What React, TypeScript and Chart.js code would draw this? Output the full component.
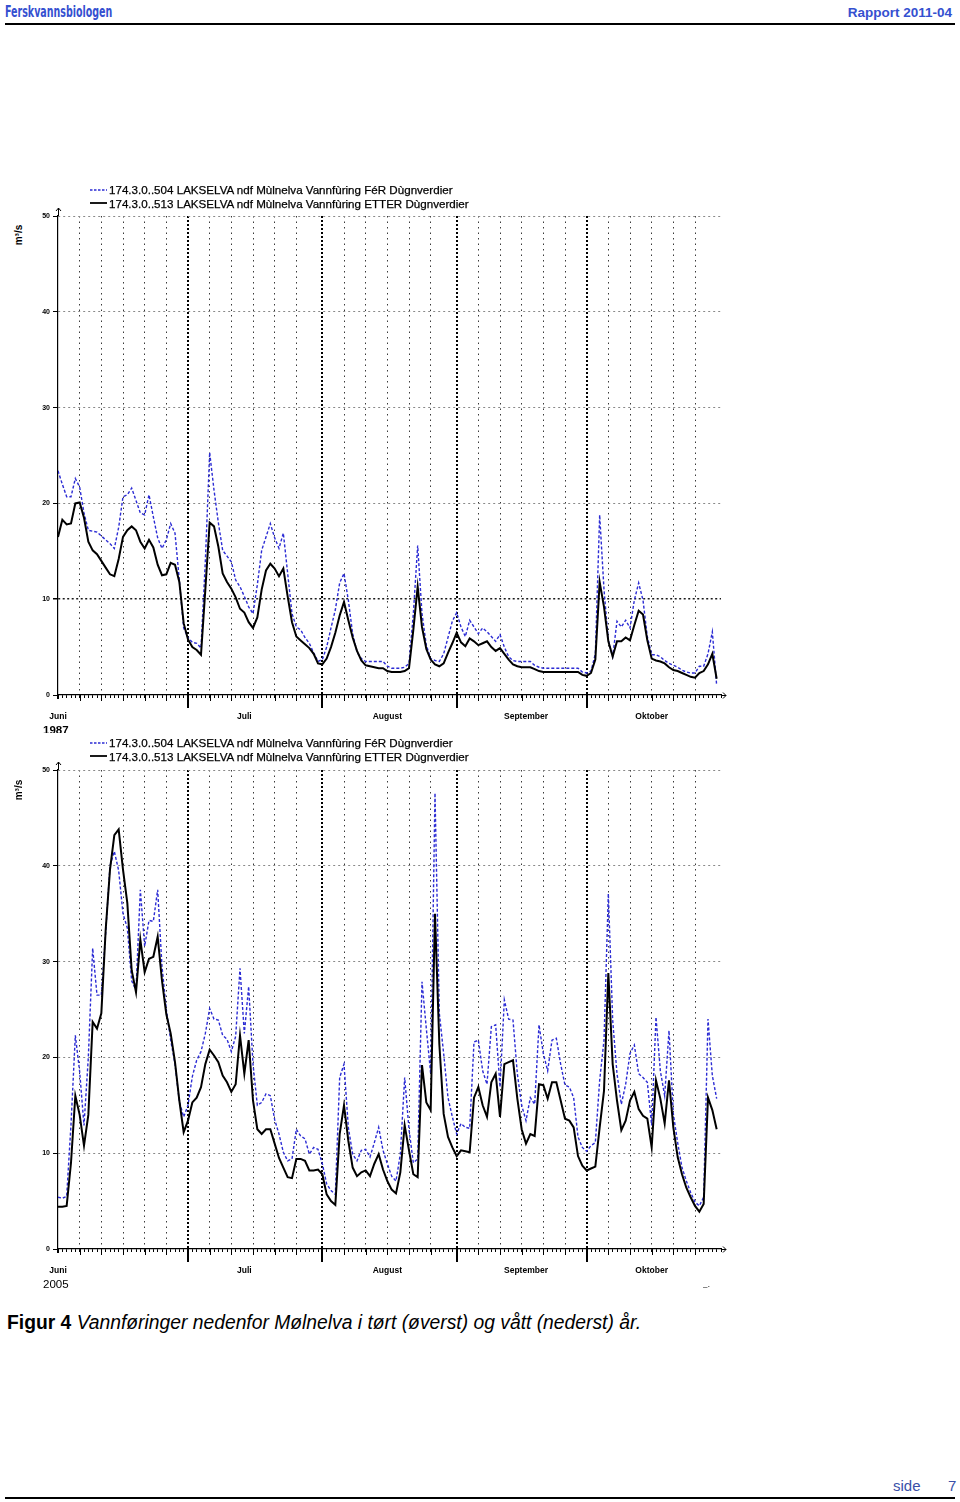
import React, { useEffect, useRef } from 'react';
import { Chart, registerables } from 'chart.js';

Chart.register(...registerables);

// ---- data (daily values, 1 June .. 31 October) ----
const N_DAYS = 153;
const MONTH_STARTS = [0, 30, 61, 92, 122];
const GRID_DAYS = [5, 10, 15, 20, 25, 35, 40, 45, 50, 55, 66, 71, 76, 81, 86, 97, 102, 107, 112, 117, 127, 132, 137, 142, 147];
const MONTH_LABELS = ['Juni', 'Juli', 'August', 'September', 'Oktober'];
const MONTH_LABEL_DAYS = [0, 43, 76, 108, 137];
const Y_TICKS = [0, 10, 20, 30, 40, 50];
const LEGEND_FOR = '174.3.0..504 LAKSELVA ndf Mùlnelva Vannfùring FéR Dùgnverdier';
const LEGEND_ETTER = '174.3.0..513 LAKSELVA ndf Mùlnelva Vannfùring ETTER Dùgnverdier';

// 1987 (dry year)
const TOP_FOR = [
  23.4, 22.0, 20.7, 20.7, 22.6, 21.7, 19.0, 17.2, 17.1, 17.0,
  16.6, 16.2, 15.8, 15.3, 17.5, 20.7, 20.9, 21.6, 20.3, 19.0,
  18.8, 20.9, 18.6, 16.4, 15.3, 16.2, 17.9, 16.9, 12.0, 7.0,
  6.0, 5.5, 5.4, 4.9, 14.0, 25.3, 21.4, 18.0, 15.1, 14.5,
  13.9, 12.0, 11.3, 10.3, 9.2, 8.5, 11.5, 15.1, 16.5, 17.9,
  16.4, 15.3, 16.9, 12.7, 8.5, 7.1, 6.8, 6.0, 5.4, 4.4,
  3.5, 3.7, 5.0, 7.0, 8.9, 11.7, 12.7, 9.9, 6.4, 4.5,
  3.8, 3.5, 3.5, 3.5, 3.5, 3.5, 3.0, 2.8, 2.8, 2.8,
  2.9, 3.3, 8.5, 15.6, 8.5, 5.2, 3.8, 3.6, 3.5, 4.3,
  6.0, 7.7, 8.6, 7.1, 6.1, 7.8, 7.1, 6.4, 7.0, 6.6,
  6.1, 5.6, 6.3, 5.0, 4.0, 3.6, 3.5, 3.5, 3.5, 3.5,
  3.1, 2.9, 2.8, 2.8, 2.8, 2.8, 2.8, 2.8, 2.8, 2.8,
  2.8, 2.4, 2.3, 2.5, 4.3, 18.8, 11.0, 5.7, 4.0, 7.7,
  7.1, 7.8, 7.0, 9.9, 11.7, 9.9, 6.1, 4.2, 4.2, 4.0,
  3.6, 3.3, 3.1, 2.9, 2.6, 2.4, 2.3, 2.3, 3.0, 3.0,
  4.3, 6.6, 1.0,
];
const TOP_ETTER = [
  16.5, 18.3, 17.8, 17.9, 20.0, 20.1, 18.5, 16.0, 15.1, 14.7,
  14.0, 13.3, 12.6, 12.4, 14.2, 16.5, 17.2, 17.6, 17.2, 16.0,
  15.3, 16.2, 15.4, 13.6, 12.5, 12.6, 13.8, 13.6, 11.8, 7.5,
  5.8, 5.0, 4.7, 4.2, 11.0, 18.0, 17.6, 15.5, 12.7, 11.8,
  11.1, 10.2, 9.0, 8.6, 7.6, 7.0, 8.1, 11.0, 13.0, 13.7,
  13.2, 12.4, 13.2, 10.3, 7.6, 6.1, 5.7, 5.3, 4.9, 4.3,
  3.3, 3.2, 3.8, 5.0, 6.5, 8.3, 9.7, 7.8, 6.0, 4.6,
  3.6, 3.1, 3.0, 2.9, 2.8, 2.8, 2.5, 2.4, 2.4, 2.4,
  2.5, 2.8, 6.8, 11.3, 7.1, 4.8, 3.7, 3.2, 3.0, 3.3,
  4.4, 5.4, 6.5, 5.5, 5.1, 5.9, 5.6, 5.2, 5.4, 5.6,
  5.0, 4.6, 4.9, 4.3, 3.7, 3.2, 3.0, 2.9, 2.9, 2.9,
  2.7, 2.5, 2.4, 2.4, 2.4, 2.4, 2.4, 2.4, 2.4, 2.4,
  2.4, 2.1, 2.0, 2.3, 3.7, 11.8, 9.2, 5.6, 4.0, 5.6,
  5.6, 6.0, 5.7, 7.3, 8.8, 8.4, 5.7, 3.8, 3.6, 3.5,
  3.3, 2.9, 2.6, 2.5, 2.3, 2.1, 1.9, 1.8, 2.3, 2.5,
  3.2, 4.3, 1.7,
];
// 2005 (wet year)
const BOT_FOR = [
  5.4, 5.3, 5.5, 13.0, 22.3, 18.5, 12.9, 20.0, 31.4, 26.5,
  26.5, 33.0, 40.0, 41.5, 39.5, 35.0, 33.5, 28.0, 27.0, 37.5,
  31.6, 34.3, 34.2, 37.5, 29.5, 25.0, 21.8, 19.3, 15.4, 13.8,
  15.0, 18.0, 19.7, 20.6, 22.5, 25.1, 24.0, 23.9, 22.3, 21.9,
  20.6, 22.2, 29.3, 22.5, 27.4, 19.3, 15.0, 15.3, 16.2, 16.0,
  13.5, 12.0, 10.1, 9.2, 9.4, 12.5, 11.8, 11.5, 9.9, 10.6,
  10.4, 8.9, 6.8, 6.1, 5.7, 17.9, 19.3, 12.7, 9.9, 9.2,
  10.3, 10.4, 9.6, 11.1, 12.7, 10.3, 8.9, 7.6, 7.1, 9.9,
  17.9, 12.5, 9.0, 9.4, 27.9, 23.0, 18.3, 47.6, 24.6, 20.4,
  15.8, 13.8, 12.0, 13.1, 12.7, 12.6, 21.6, 21.8, 18.6, 17.2,
  23.2, 23.4, 16.9, 26.0, 24.0, 23.9, 18.3, 15.0, 13.4, 15.8,
  15.1, 23.4, 20.4, 18.6, 21.8, 22.0, 19.3, 17.1, 16.9, 15.8,
  11.7, 10.6, 10.2, 10.8, 11.1, 17.6, 21.8, 37.1, 23.9, 18.3,
  15.1, 17.2, 20.4, 21.3, 18.3, 17.9, 17.4, 12.9, 24.2, 18.6,
  16.0, 22.8, 14.1, 11.1, 8.5, 7.1, 5.9, 4.9, 4.5, 5.4,
  24.0, 18.1, 15.7,
];
const BOT_ETTER = [
  4.4, 4.4, 4.5, 9.0, 16.0, 14.0, 10.8, 14.0, 23.7, 23.0,
  24.6, 33.3, 39.6, 43.2, 43.8, 39.6, 36.1, 29.1, 26.8, 32.3,
  28.9, 30.3, 30.5, 32.6, 28.0, 24.5, 22.5, 19.5, 15.5, 12.2,
  13.4, 15.3, 15.8, 16.9, 19.3, 20.8, 20.2, 19.5, 18.1, 17.4,
  16.4, 17.2, 22.3, 18.3, 21.8, 15.5, 12.5, 12.0, 12.5, 12.5,
  11.0, 9.5, 8.5, 7.5, 7.4, 9.4, 9.4, 9.2, 8.2, 8.2,
  8.3, 7.8, 5.7, 5.0, 4.6, 12.0, 15.0, 11.3, 8.5, 7.6,
  8.0, 8.2, 7.6, 8.9, 9.9, 8.3, 7.1, 6.2, 5.8, 8.0,
  12.9, 10.3, 7.8, 7.5, 19.2, 15.3, 14.5, 35.0, 21.4, 14.1,
  11.7, 10.6, 9.7, 10.3, 10.2, 10.1, 15.8, 16.9, 15.0, 13.8,
  17.4, 18.3, 13.8, 19.3, 19.5, 19.7, 15.7, 12.5, 11.0, 12.0,
  11.8, 17.2, 17.1, 15.7, 17.4, 17.4, 15.5, 13.6, 13.4, 12.7,
  9.7, 8.7, 8.2, 8.4, 8.6, 12.7, 16.5, 28.8, 19.3, 15.5,
  12.4, 13.4, 15.5, 16.4, 14.6, 13.9, 13.6, 10.6, 17.6, 15.7,
  13.1, 17.6, 12.7, 9.6, 7.8, 6.4, 5.4, 4.5, 3.9, 4.7,
  15.8, 14.5, 12.5,
];

const FONT = "'Liberation Sans', Arial, Helvetica, sans-serif";
const BLUE = '#2b2bd4';

const axisDecor = {
  id: 'axisDecor',
  afterDraw(chart: any) {
    const { ctx, chartArea, scales } = chart;
    const x = scales.x;
    ctx.save();
    ctx.strokeStyle = '#000';
    // longer ticks every 5 days
    ctx.lineWidth = 1;
    GRID_DAYS.forEach((d) => {
      const px = Math.round(x.getPixelForValue(d)) + 0.5;
      ctx.beginPath();
      ctx.moveTo(px, chartArea.bottom);
      ctx.lineTo(px, chartArea.bottom + 6);
      ctx.stroke();
    });
    // month boundary ticks below axis
    ctx.lineWidth = 2;
    MONTH_STARTS.forEach((d) => {
      const px = Math.round(x.getPixelForValue(d));
      ctx.beginPath();
      ctx.moveTo(px, chartArea.bottom);
      ctx.lineTo(px, chartArea.bottom + (d === 0 ? 4 : 13));
      ctx.stroke();
    });
    // y axis arrow
    ctx.lineWidth = 1;
    const lx = Math.round(chartArea.left) + 0.5;
    ctx.beginPath();
    ctx.moveTo(lx, chartArea.top);
    ctx.lineTo(lx, chartArea.top - 8);
    ctx.moveTo(lx - 2.5, chartArea.top - 5);
    ctx.lineTo(lx, chartArea.top - 8);
    ctx.lineTo(lx + 2.5, chartArea.top - 5);
    ctx.stroke();
    // x axis arrow
    const by = Math.round(chartArea.bottom) + 0.5;
    ctx.beginPath();
    ctx.moveTo(chartArea.right, by);
    ctx.lineTo(chartArea.right + 5, by);
    ctx.moveTo(chartArea.right + 2, by - 3);
    ctx.lineTo(chartArea.right + 5, by);
    ctx.lineTo(chartArea.right + 2, by + 3);
    ctx.stroke();
    ctx.restore();
  },
};

function FlowChart({ top, forData, etterData, darkTen }: { top: number; forData: number[]; etterData: number[]; darkTen: boolean }) {
  const ref = useRef<HTMLCanvasElement>(null);
  useEffect(() => {
    const tickVal = (c: any) => (c && c.tick ? c.tick.value : undefined);
    const chart = new Chart(ref.current as HTMLCanvasElement, {
      type: 'line',
      data: {
        datasets: [
          {
            label: LEGEND_ETTER,
            data: etterData.map((v, i) => ({ x: i, y: v })),
            borderColor: '#000',
            borderWidth: 2,
            pointRadius: 0,
            tension: 0,
            fill: false,
            order: 0,
          },
          {
            label: LEGEND_FOR,
            data: forData.map((v, i) => ({ x: i, y: v })),
            borderColor: BLUE,
            borderWidth: 1.4,
            borderDash: [3, 2],
            pointRadius: 0,
            tension: 0,
            fill: false,
            order: 1,
          },
        ],
      },
      options: {
        responsive: false,
        animation: false,
        devicePixelRatio: 1,
        layout: { padding: { top: 16, right: 19, left: 0, bottom: 0 } },
        plugins: { legend: { display: false }, tooltip: { enabled: false } },
        scales: {
          x: {
            type: 'linear',
            min: 0,
            max: N_DAYS,
            afterBuildTicks: (s: any) => {
              s.ticks = Array.from({ length: N_DAYS + 1 }, (_, d) => ({ value: d }));
            },
            afterFit: (s: any) => {
              s.height = 40;
            },
            ticks: {
              autoSkip: false,
              maxRotation: 0,
              minRotation: 0,
              padding: 13.5,
              color: '#000',
              font: { size: 8.5, weight: 'bold', family: FONT },
              callback: (v: any) => {
                const k = MONTH_LABEL_DAYS.indexOf(Number(v));
                return k >= 0 ? MONTH_LABELS[k] : '';
              },
            },
            grid: {
              drawTicks: true,
              tickLength: 3,
              tickColor: '#000',
              tickWidth: 1,
              color: (c: any) => {
                const v = tickVal(c);
                if (v === undefined || v === 0 || v === N_DAYS) return 'rgba(0,0,0,0)';
                if (MONTH_STARTS.includes(v)) return '#000';
                if (GRID_DAYS.includes(v)) return '#3a3a3a';
                return 'rgba(0,0,0,0)';
              },
              lineWidth: (c: any) => (MONTH_STARTS.includes(tickVal(c)) ? 2 : 1),
            },
            border: {
              display: true,
              color: '#000',
              width: 1.2,
              dash: (c: any) => {
                const v = tickVal(c);
                if (v === undefined) return [];
                return MONTH_STARTS.includes(v) ? [2, 2] : [1.5, 4];
              },
            },
          },
          y: {
            min: 0,
            max: 50,
            afterBuildTicks: (s: any) => {
              s.ticks = Y_TICKS.map((v) => ({ value: v }));
            },
            afterFit: (s: any) => {
              s.width = 58;
            },
            ticks: {
              padding: 3,
              color: '#000',
              font: { size: 7, weight: 'bold', family: FONT },
            },
            grid: {
              drawTicks: true,
              tickLength: 5,
              tickColor: '#000',
              color: (c: any) => {
                const v = tickVal(c);
                if (v === undefined || v === 0) return 'rgba(0,0,0,0)';
                if (darkTen && v === 10) return '#1a1a1a';
                return '#8a8a8a';
              },
              lineWidth: (c: any) => (darkTen && tickVal(c) === 10 ? 1.5 : 1),
            },
            border: {
              display: true,
              color: '#000',
              width: 1.2,
              dash: (c: any) => {
                const v = tickVal(c);
                if (v === undefined) return [];
                return darkTen && v === 10 ? [2, 2.5] : [2, 3];
              },
            },
          },
        },
      } as any,
      plugins: [axisDecor],
    });
    return () => chart.destroy();
  }, []);
  return (
    <canvas
      ref={ref}
      width={740}
      height={535}
      style={{ position: 'absolute', left: 0, top, width: 740, height: 535, display: 'block' }}
    />
  );
}

function Legend({ top }: { top: number }) {
  const row = (dashed: boolean, text: string) => (
    <div style={{ display: 'flex', alignItems: 'center', height: 13.5, whiteSpace: 'nowrap' }}>
      <svg width={17} height={4} style={{ marginRight: 2, display: 'block' }}>
        <line
          x1={0}
          y1={2}
          x2={17}
          y2={2}
          stroke={dashed ? BLUE : '#000'}
          strokeWidth={dashed ? 1.6 : 1.8}
          strokeDasharray={dashed ? '2.5 1.5' : undefined}
        />
      </svg>
      <span>{text}</span>
    </div>
  );
  return (
    <div style={{ position: 'absolute', left: 90, top, fontSize: 11.6, fontFamily: FONT, color: '#000', zIndex: 2, WebkitTextStroke: '0.25px #000' }}>
      {row(true, LEGEND_FOR)}
      {row(false, LEGEND_ETTER)}
    </div>
  );
}

function YUnit({ cy }: { cy: number }) {
  return (
    <div
      style={{
        position: 'absolute',
        left: 18,
        top: cy,
        transform: 'translate(-50%, -50%) rotate(-90deg)',
        fontFamily: FONT,
        fontWeight: 'bold',
        fontSize: 10,
        whiteSpace: 'nowrap',
        color: '#000',
      }}
    >
      m³/s
    </div>
  );
}

export default function App() {
  return (
    <div
      style={{
        position: 'absolute',
        left: 0,
        top: 0,
        width: 960,
        height: 1502,
        background: '#fff',
        fontFamily: FONT,
        overflow: 'hidden',
      }}
    >
      {/* header */}
      <div
        style={{
          position: 'absolute',
          left: 5,
          top: 2,
          fontFamily: "'Liberation Sans Narrow', 'DejaVu Sans Condensed', Arial, sans-serif",
          fontWeight: 'bold',
          fontSize: 16,
          color: '#3550d0',
          transform: 'scaleX(0.66)',
          transformOrigin: 'left center',
          whiteSpace: 'nowrap',
        }}
      >
        Ferskvannsbiologen
      </div>
      <div
        style={{
          position: 'absolute',
          right: 8,
          top: 5,
          fontWeight: 'bold',
          fontSize: 13.5,
          color: '#3550d0',
          whiteSpace: 'nowrap',
        }}
      >
        Rapport 2011-04
      </div>
      <div style={{ position: 'absolute', left: 5, top: 23, width: 950, height: 2, background: '#000' }} />

      {/* top chart */}
      <Legend top={183} />
      <YUnit cy={235} />
      <FlowChart top={200} forData={TOP_FOR} etterData={TOP_ETTER} darkTen={true} />
      <div style={{ position: 'absolute', left: 43, top: 725, height: 8, overflow: 'hidden' }}>
        <div style={{ fontSize: 11.5, lineHeight: '10px', fontWeight: 'bold', color: '#000' }}>1987</div>
      </div>

      {/* bottom chart */}
      <Legend top={736} />
      <YUnit cy={790} />
      <FlowChart top={754} forData={BOT_FOR} etterData={BOT_ETTER} darkTen={false} />
      <div style={{ position: 'absolute', left: 43, top: 1277, fontSize: 11.5, lineHeight: '14px', color: '#000' }}>2005</div>
      <div style={{ position: 'absolute', left: 703, top: 1282, fontSize: 8, color: '#000' }}>–·</div>

      {/* caption */}
      <div
        style={{
          position: 'absolute',
          left: 7,
          top: 1312,
          fontSize: 19.3,
          lineHeight: '22px',
          color: '#000',
          whiteSpace: 'nowrap',
        }}
      >
        <b>Figur 4</b> <i>Vannføringer nedenfor Mølnelva i tørt (øverst) og vått (nederst) år.</i>
      </div>

      {/* footer */}
      <div style={{ position: 'absolute', left: 893, top: 1477, fontSize: 15, color: '#3a4fa8', whiteSpace: 'nowrap' }}>side</div>
      <div style={{ position: 'absolute', left: 948, top: 1477, fontSize: 15, color: '#3a4fa8' }}>7</div>
      <div style={{ position: 'absolute', left: 5, top: 1497, width: 950, height: 1.5, background: '#000' }} />
    </div>
  );
}
